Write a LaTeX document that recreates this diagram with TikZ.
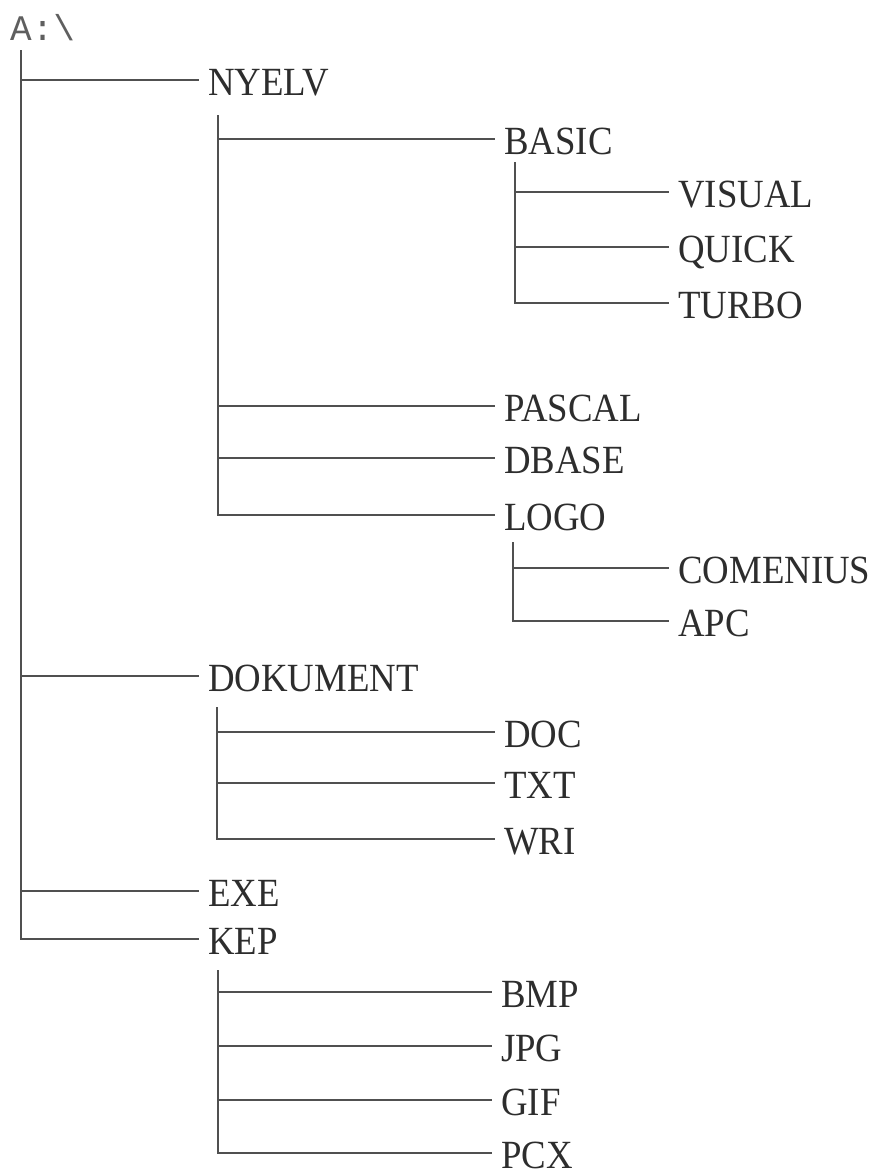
\documentclass[tikz,border=0pt]{standalone}
\usepackage{fontspec}
\setmainfont{Liberation Serif}[FakeStretch=0.92]
\setmonofont{Liberation Mono}
\usetikzlibrary{positioning, calc}
\definecolor{inkText}{RGB}{45, 45, 45}
\definecolor{inkRoot}{RGB}{95, 95, 95}
\definecolor{inkLine}{RGB}{80, 80, 80}
\tikzset{
  dirnode/.style={
    anchor=west, inner xsep=9pt, inner ysep=0pt,
    text height=30pt, text depth=0pt,
    font=\fontsize{40pt}{40pt}\selectfont, text=inkText,
  },
  rootnode/.style={
    anchor=base west, inner sep=0pt,
    font=\ttfamily\fontsize{36pt}{36pt}\selectfont, text=inkRoot,
  },
  branch/.style={
    draw=inkLine, line width=1.1pt,
  },
}

\begin{document}
\begin{tikzpicture}[x=1pt, y=-1pt]

\useasboundingbox (0,0) rectangle (879,1176);

% =========================================================================
% root and first level
% =========================================================================

\node[rootnode] (root) at (10,40) {A:\textbackslash};

\node[dirnode] (nyelv)    at (199,80)  {NYELV};
\node[dirnode] (dokument) at (199,676) {DOKUMENT};
\node[dirnode] (exe)      at (199,891) {EXE};
\node[dirnode] (kep)      at (199,939) {KEP};

% =========================================================================
% NYELV subtree
% =========================================================================

\node[dirnode] (basic)  at (495,139) {BASIC};
\node[dirnode] (pascal) at (495,406) {PASCAL};
\node[dirnode] (dbase)  at (495,458) {DBASE};
\node[dirnode] (logo)   at (495,515) {LOGO};

\node[dirnode] (visual) at (669,192) {VISUAL};
\node[dirnode] (quick)  at (669,247) {QUICK};
\node[dirnode] (turbo)  at (669,303) {TURBO};

\node[dirnode] (comenius) at (669,568) {COMENIUS};
\node[dirnode] (apc)      at (669,621) {APC};

% =========================================================================
% DOKUMENT and KEP subtrees
% =========================================================================

\node[dirnode] (doc) at (495,732) {DOC};
\node[dirnode] (txt) at (495,783) {TXT};
\node[dirnode] (wri) at (495,839) {WRI};

\node[dirnode] (bmp) at (492,992)  {BMP};
\node[dirnode] (jpg) at (492,1046) {JPG};
\node[dirnode] (gif) at (492,1100) {GIF};
\node[dirnode] (pcx) at (492,1153) {PCX};

% =========================================================================
% branches
% =========================================================================

\coordinate (root-spine)     at (21,50);
\coordinate (nyelv-spine)    at (218,115);
\coordinate (basic-spine)    at (515,162);
\coordinate (logo-spine)     at (513,542);
\coordinate (dokument-spine) at (217,707);
\coordinate (kep-spine)      at (218,970);

\foreach \n in {nyelv, dokument, exe, kep}{
  \draw[branch] (root-spine) |- (\n.west);
}
\foreach \n in {basic, pascal, dbase, logo}{
  \draw[branch] (nyelv-spine) |- (\n.west);
}
\foreach \n in {visual, quick, turbo}{
  \draw[branch] (basic-spine) |- (\n.west);
}
\foreach \n in {comenius, apc}{
  \draw[branch] (logo-spine) |- (\n.west);
}
\foreach \n in {doc, txt, wri}{
  \draw[branch] (dokument-spine) |- (\n.west);
}
\foreach \n in {bmp, jpg, gif, pcx}{
  \draw[branch] (kep-spine) |- (\n.west);
}

\end{tikzpicture}
\end{document}
